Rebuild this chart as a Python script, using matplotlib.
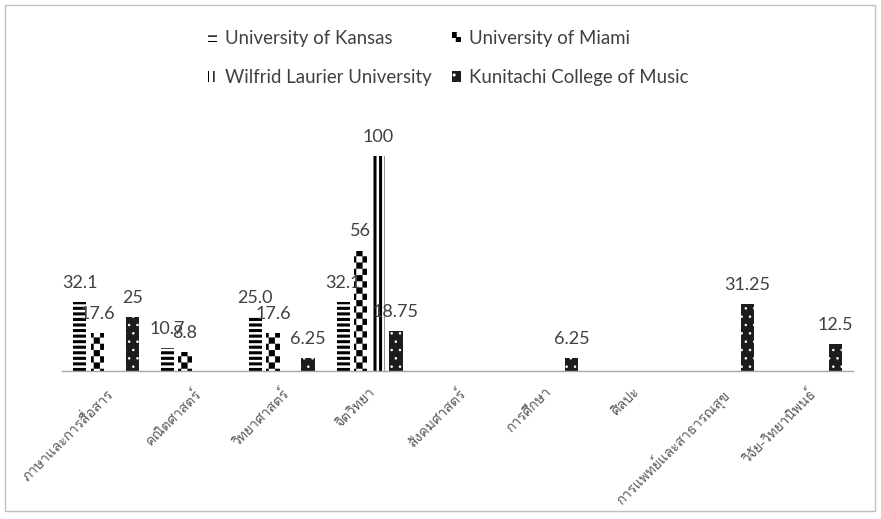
import warnings
import numpy as np
import matplotlib
matplotlib.use('Agg')
import matplotlib.pyplot as plt
from matplotlib import hatch as mhatch
from matplotlib import font_manager
from matplotlib.path import Path
from matplotlib.patches import Rectangle

warnings.filterwarnings('ignore', message='.*hatch must consist.*')

# data
categories = ['ภาษาและการสื่อสาร', 'คณิตศาสตร์', 'วิทยาศาสตร์', 'จิตวิทยา',
              'สังคมศาสตร์', 'การศึกษา', 'ศิลปะ', 'การแพทย์และสาธารณสุข',
              'วิจัย-วิทยานิพนธ์']
series = ['University of Kansas', 'University of Miami',
          'Wilfrid Laurier University', 'Kunitachi College of Music']
kansas = [32.1, 10.7, 25.0, 32.1, 0, 0, 0, 0, 0]
miami = [17.6, 8.8, 17.6, 56, 0, 0, 0, 0, 0]
laurier = [0, 0, 0, 100, 0, 0, 0, 0, 0]
kunitachi = [25, 0, 6.25, 18.75, 0, 6.25, 0, 31.25, 12.5]
label_fmt = ['{:.1f}', '{:g}', '{:g}', '{:g}']

CHECK_LW = 0.3


# checkerboard hatch, letter 'c'
class CheckerHatch(mhatch.HatchPatternBase):
    def __init__(self, hatch, density):
        self.num_rows = hatch.count('c') * 8
        n = self.num_rows
        self.num_vertices = (n * n // 2) * 5

    def set_vertices_and_codes(self, vertices, codes):
        n = self.num_rows
        step = 1.0 / n
        gap = CHECK_LW / 72.0 / 2
        k = 0
        for i in range(n):
            for j in range(n):
                if (i + j) % 2:
                    continue
                x0, x1 = i * step + gap, (i + 1) * step - gap
                y0, y1 = j * step + gap, (j + 1) * step - gap
                vertices[k:k + 5] = [[x0, y0], [x1, y0], [x1, y1], [x0, y1], [x0, y0]]
                codes[k:k + 5] = [Path.MOVETO, Path.LINETO, Path.LINETO,
                                  Path.LINETO, Path.CLOSEPOLY]
                k += 5


mhatch._hatch_types.append(CheckerHatch)


def find_thai_family():
    from fontTools.ttLib import TTFont
    for f in font_manager.fontManager.ttflist:
        try:
            tt = TTFont(f.fname, fontNumber=0, lazy=True)
            cmap = tt.getBestCmap()
            if cmap and 0x0E20 in cmap and 0x0E34 in cmap:
                return f.name
        except Exception:
            pass
    return None


thai = find_thai_family()
thai_fam = [thai, 'DejaVu Sans'] if thai else ['DejaVu Sans']

plt.rcParams['font.family'] = ['Lato', 'DejaVu Sans']

fig = plt.figure(figsize=(8.81, 5.19), dpi=100)
ax = fig.add_axes([62 / 881, 0.285, (853 - 62) / 881, 0.456])

x = np.arange(len(categories))
w = 0.15
styles = [
    dict(color='white', edgecolor='black', hatch='---', hlw=2.2),
    dict(color='white', edgecolor='black', hatch='cc', hlw=CHECK_LW),
    dict(color='white', edgecolor='black', hatch='|||', hlw=2.2),
    dict(color='#1c1c1c', edgecolor='white', hatch='..', hlw=0.6),
]
data = [kansas, miami, laurier, kunitachi]
handles = []
for i, (vals, st) in enumerate(zip(data, styles)):
    pos = x + (i - 1.5) * 0.2
    bars = ax.bar(pos, vals, w, color=st['color'], edgecolor=st['edgecolor'],
                  hatch=st['hatch'], linewidth=0, label=series[i])
    for p in bars:
        p.set_hatch_linewidth(st['hlw'])
    handles.append(bars)
    for xp, v in zip(pos, vals):
        if v > 0:
            ax.annotate(label_fmt[i].format(v), (xp, v), xytext=(0, 8),
                        textcoords='offset points', ha='center', va='bottom',
                        fontsize=13, color='#404040')

ax.set_xlim(-0.5, len(categories) - 0.5)
ax.set_ylim(0, 110)
ax.set_yticks([])
ax.set_xticks(x)
ax.set_xticklabels(categories, rotation=45, ha='right', rotation_mode='anchor',
                   fontsize=10, color='#595959', family=thai_fam)
ax.tick_params(axis='x', length=0, pad=11)
for s in ['top', 'right', 'left']:
    ax.spines[s].set_visible(False)
ax.spines['bottom'].set_color('#a6a6a6')
ax.spines['bottom'].set_linewidth(1)

# legend fills column by column, so order gives rows Kansas/Miami, Laurier/Kunitachi
order = [0, 2, 1, 3]
fig.legend(handles=[handles[k] for k in order], loc='upper left',
           bbox_to_anchor=(0.217, 0.975), ncol=2, frameon=False, fontsize=13.4,
           handlelength=0.5, handleheight=0.5, handletextpad=0.4,
           columnspacing=1.1, labelspacing=1.2, labelcolor='#404040')

# outer frame
fig.patches.append(Rectangle((5 / 881, 8 / 519), 870 / 881, 506 / 519,
                             transform=fig.transFigure, fill=False,
                             edgecolor='#bfbfbf', linewidth=1))

fig.savefig('out.png', dpi=100)
